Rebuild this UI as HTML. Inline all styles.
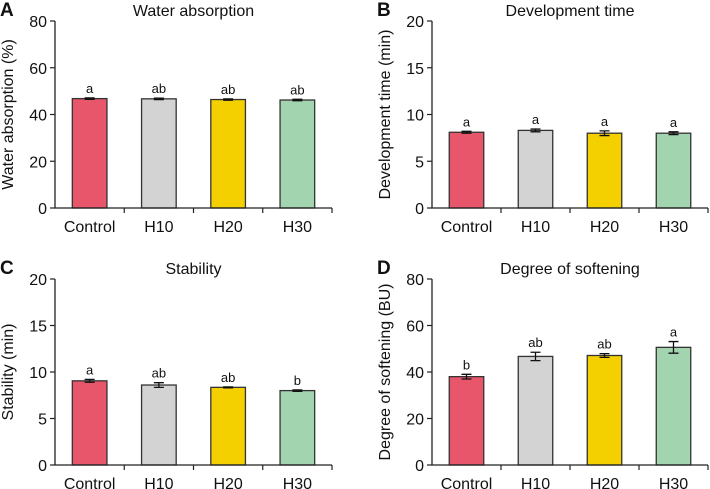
<!DOCTYPE html>
<html>
<head>
<meta charset="utf-8">
<style>
html,body{margin:0;padding:0;background:#fff;}
svg{display:block;font-family:"Liberation Sans",Arial,sans-serif;}
</style>
</head>
<body>
<svg id="chart" width="710" height="489" viewBox="0 0 710 489" xmlns="http://www.w3.org/2000/svg"></svg>
<script>
const categories = ["Control","H10","H20","H30"];
const colors = ["#e8566b","#d3d3d3","#f5d000","#a3d4b0"];

const waterValues = [46.8, 46.7, 46.4, 46.2];
const waterErrors = [0.3, 0.3, 0.3, 0.3];
const waterLetters = ["a","ab","ab","ab"];
const waterTicks = [0,20,40,60,80];

const devValues = [8.1, 8.3, 8.0, 8.0];
const devErrors = [0.1, 0.15, 0.25, 0.15];
const devLetters = ["a","a","a","a"];
const devTicks = [0,5,10,15,20];

const stabValues = [9.05, 8.6, 8.35, 8.0];
const stabErrors = [0.15, 0.25, 0.05, 0.08];
const stabLetters = ["a","ab","ab","b"];
const stabTicks = [0,5,10,15,20];

const softValues = [38.0, 46.7, 47.1, 50.6];
const softErrors = [1.0, 1.8, 0.8, 2.5];
const softLetters = ["b","ab","ab","a"];
const softTicks = [0,20,40,60,80];

const svg = document.getElementById('chart');
const NS = "http://www.w3.org/2000/svg";
function mk(tag, attrs, parent){
  const e = document.createElementNS(NS, tag);
  for (const k in attrs) e.setAttribute(k, attrs[k]);
  parent.appendChild(e);
  return e;
}

function panel(p){
  const g = mk('g', {}, svg);
  
  
  const x0 = p.x0, x1 = p.x1, yTop = p.yTop, yBot = p.yBot;
  const maxV = p.ticks[p.ticks.length-1];
  const yScale = v => yBot - (v / maxV) * (yBot - yTop);
  const band = (x1 - x0) / p.values.length;
  const xCenter = i => x0 + band * (i + 0.5);

  const L = mk('text', {x: p.lx, y: p.ly, 'font-size': 19, 'font-weight': 'bold', fill: '#111'}, g);
  L.textContent = p.letter;
  
  
  const T = mk('text', {x: (x0 + x1) / 2, y: yTop - 5, 'font-size': 16, 'text-anchor': 'middle', fill: '#111'}, g);
  T.textContent = p.title;
  
  
  const yc = (yTop + yBot) / 2;
  const YT = mk('text', {x: 0, y: 0, 'font-size': 16, 'text-anchor': 'middle', fill: '#111', transform: `translate(${p.ytx},${yc}) rotate(-90)`}, g);
  YT.textContent = p.ylabel;
  
  

  p.values.forEach((v, i) => {
    const cx = xCenter(i), w = band * 0.5;
    const r = mk('rect', {x: cx - w/2, y: yScale(v), width: w, height: yBot - yScale(v), fill: colors[i], stroke: '#333', 'stroke-width': 1.3}, g);
    
    
    const e = p.errors[i];
    const yh = yScale(v + e), yl = yScale(v - e);
    const eb = mk('path', {d: `M${cx},${yh}V${yl}M${cx-5},${yh}H${cx+5}M${cx-5},${yl}H${cx+5}`, stroke: '#111', 'stroke-width': 1.3, fill: 'none'}, g);
    
    
    const s = mk('text', {x: cx, y: yh - 5, 'font-size': 13, 'text-anchor': 'middle', fill: '#111'}, g);
    s.textContent = p.letters[i];
    
    
    const xl = mk('text', {x: cx, y: yBot + 24, 'font-size': 16, 'text-anchor': 'middle', fill: '#111'}, g);
    xl.textContent = categories[i];
    
    
  });

  const ax = mk('path', {d: `M${x0},${yTop}V${yBot}H${x1}`, stroke: '#222', 'stroke-width': 1.3, fill: 'none'}, g);
  
  
  for (let i = 1; i <= p.values.length; i++) {
    const tx = x0 + band * i;
    mk('line', {x1: tx, x2: tx, y1: yBot, y2: yBot + 5, stroke: '#222', 'stroke-width': 1.2}, g);
  }
  p.ticks.forEach(t => {
    const y = yScale(t);
    mk('line', {x1: x0 - 5, x2: x0, y1: y, y2: y, stroke: '#222', 'stroke-width': 1.2}, g);
    const tl = mk('text', {x: x0 - 8, y: y + 6, 'font-size': 16, 'text-anchor': 'end', fill: '#111'}, g);
    tl.textContent = t;
    
    
  });
}

panel({name: 'panel-water-absorption', letter: 'A', lx: 0, ly: 16, ytx: 13, title: 'Water absorption', ylabel: 'Water absorption (%)', x0: 55, x1: 332, yTop: 21, yBot: 208, values: waterValues, errors: waterErrors, letters: waterLetters, ticks: waterTicks});
panel({name: 'panel-development-time', letter: 'B', lx: 377, ly: 16, ytx: 390, title: 'Development time', ylabel: 'Development time (min)', x0: 432, x1: 708, yTop: 21, yBot: 208, values: devValues, errors: devErrors, letters: devLetters, ticks: devTicks});
panel({name: 'panel-stability', letter: 'C', lx: 0, ly: 274, ytx: 13, title: 'Stability', ylabel: 'Stability (min)', x0: 55, x1: 332, yTop: 279, yBot: 465, values: stabValues, errors: stabErrors, letters: stabLetters, ticks: stabTicks});
panel({name: 'panel-degree-of-softening', letter: 'D', lx: 377, ly: 274, ytx: 390, title: 'Degree of softening', ylabel: 'Degree of softening (BU)', x0: 432, x1: 708, yTop: 279, yBot: 465, values: softValues, errors: softErrors, letters: softLetters, ticks: softTicks});
</script>
</body>
</html>
